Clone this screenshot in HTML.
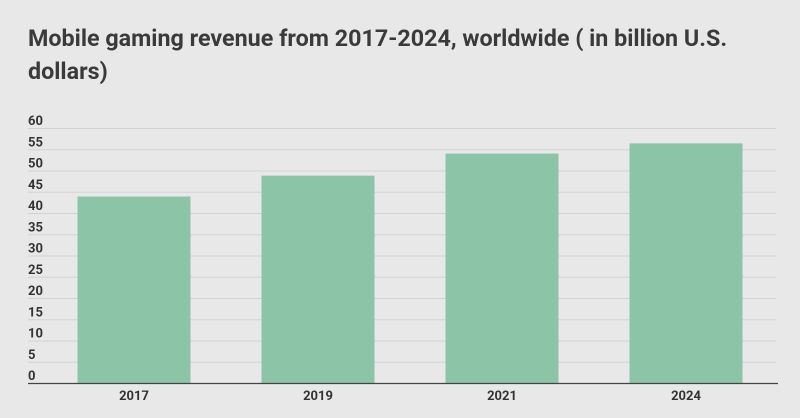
<!DOCTYPE html>
<html><head><meta charset="utf-8"><style>
body{margin:0;background:#e8e8e8;font-family:"Roboto","Liberation Sans",sans-serif;}
#wrap{position:relative;width:800px;height:418px;overflow:hidden;background:#e8e8e8}
h1{position:absolute;left:28px;top:22px;margin:0;font-size:23.3px;line-height:33px;font-weight:bold;color:#3a3a3a;width:720px}
</style></head><body>
<div id="wrap">
<h1>Mobile gaming revenue from 2017-2024, worldwide ( in billion U.S. dollars)</h1>
<svg id="chart" width="800" height="418" style="position:absolute;left:0;top:0"></svg>
</div>
<script>
const categories=["2017","2019","2021","2024"];
const values=[44.0,48.9,54.1,56.5];
const yTicks=[0,5,10,15,20,25,30,35,40,45,50,55,60];
const NS="http://www.w3.org/2000/svg";
const svg=document.getElementById("chart");
const y0=383.5,y1=128.5,yMax=60;
const y=v=>y0-(y0-y1)*v/yMax;
const bandStart=42,band=184,barW=113;
const x=i=>bandStart+band*i+band/2;
function mk(t,a){const e=document.createElementNS(NS,t);for(const k in a)e.setAttribute(k,a[k]);svg.appendChild(e);return e;}
yTicks.forEach(t=>{
  if(t>0){const l=mk("line",{x1:28,x2:776,y1:y(t),y2:y(t),stroke:"#d2d2d2","stroke-width":1});
  
  }
  const tx=mk("text",{x:28,y:y(t)-3.5,"font-size":13,"font-weight":"bold",fill:"#333","font-family":"Roboto, Liberation Sans, sans-serif"});
  tx.textContent=t;
  
  
});
values.forEach((v,i)=>{
  const r=mk("rect",{x:x(i)-barW/2,y:y(v),width:barW,height:y0-y(v),fill:"#8cc4a8"});
  
  
  const t=mk("text",{x:x(i),y:400,"text-anchor":"middle","font-size":13,"font-weight":"bold",fill:"#333","font-family":"Roboto, Liberation Sans, sans-serif"});
  t.textContent=categories[i];
  
  
});
const ax=mk("line",{x1:28,x2:778,y1:y0,y2:y0,stroke:"#444","stroke-width":1.2});


</script>
</body></html>
